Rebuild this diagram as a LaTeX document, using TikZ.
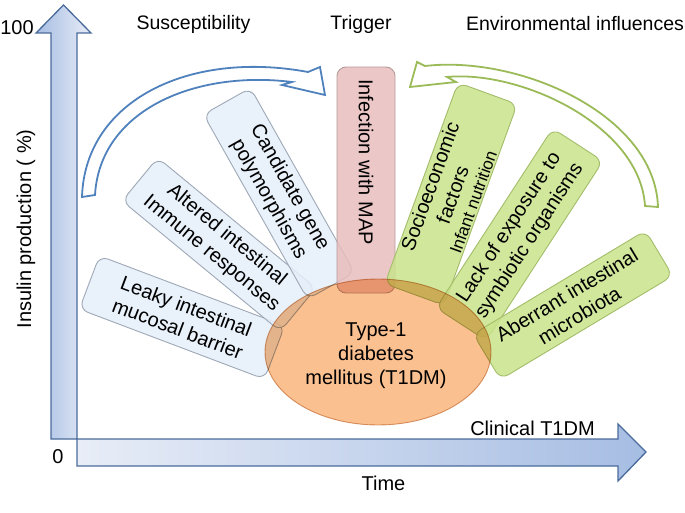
\documentclass[tikz,border=0pt]{standalone}
\usepackage{fontspec}
\setmainfont{Liberation Sans}
\usetikzlibrary{shapes.geometric}
\definecolor{axisborder}{HTML}{4A6B9B}
\definecolor{axislight}{HTML}{E8EDF7}
\definecolor{axisdark}{HTML}{A6BDE3}
\definecolor{bluefill}{HTML}{E5EEF9}
\definecolor{blueedge}{HTML}{9EA8B6}
\definecolor{greenfill}{HTML}{C9E38B}
\definecolor{greenedge}{HTML}{A3BD6A}
\definecolor{pinkfill}{HTML}{E8BDBD}
\definecolor{pinkedge}{HTML}{B89A9A}
\definecolor{orangefill}{HTML}{FAC090}
\definecolor{orangeedge}{HTML}{D9A57C}
\definecolor{arrowblue}{HTML}{4F81BD}
\definecolor{arrowgreen}{HTML}{9BBB59}
\begin{document}
\begin{tikzpicture}[x=1pt,y=-1pt,
  lab/.style={font=\fontsize{20}{24}\selectfont, inner sep=0pt},
  ttl/.style={font=\fontsize{19.5}{23}\selectfont, inner sep=0pt, anchor=base},
  factor/.style={rounded corners=9pt, line width=0.9pt, fill opacity=0.85, text opacity=1,
    align=center, font=\fontsize{20}{24}\selectfont, inner sep=0pt},
  suscept/.style={factor, draw=blueedge, fill=bluefill},
  trig/.style={factor, draw=pinkedge, fill=pinkfill},
  envf/.style={factor, draw=greenedge, fill=greenfill},
  axisshape/.style={left color=axisdark, right color=axislight, draw=axisborder, line width=1.3pt},
  haxisshape/.style={left color=axislight, right color=axisdark, draw=axisborder, line width=1.3pt},
  bendarrow/.style={fill=white, line width=1.8pt, line join=miter}
]
\useasboundingbox (0,0) rectangle (685,513);

% axes
\shadedraw[axisshape] (51,439) -- (51,33) -- (36,33) -- (63.5,5) -- (91,33) -- (77,33) -- (77,439) -- cycle;
\shadedraw[haxisshape] (77,439) -- (618,439) -- (618,424) -- (646,452) -- (618,481) -- (618,466) -- (77,466) -- cycle;

% curved arrows
\draw[bendarrow, draw=arrowblue] (82,197) .. controls (85,100) and (190,50) .. (308,72)
  -- (320,67) -- (325,95) -- (282,85) -- (292,82)
  .. controls (195,70) and (100,110) .. (95,195) -- cycle;
\draw[bendarrow, draw=arrowgreen] (410,87) -- (417,62) -- (425,66)
  .. controls (520,55) and (655,115) .. (658,207) -- (645,206)
  .. controls (640,125) and (520,70) .. (447,77) -- (456,82) -- cycle;

% factor boxes
\node[suscept, rotate=-20.7, minimum width=198pt, minimum height=57pt] (leaky) at (182,317.5) {Leaky intestinal\\mucosal barrier};
\node[suscept, rotate=-39.5, minimum width=205pt, minimum height=56pt] (altered) at (219,244.5) {Altered intestinal\\Immune responses};
\node[suscept, rotate=-60.6, minimum width=212pt, minimum height=54pt] (gene) at (279,193.5) {Candidate gene\\polymorphisms};
\node[trig, rotate=-90, minimum width=226pt, minimum height=58pt] (map) at (366,180) {};
\node[lab, rotate=-90] (maptext) at (366,162) {Infection with MAP};
\node[envf, rotate=70, minimum width=214pt, minimum height=63pt] (socio) at (451,194) {Socioeconomic\\factors\\[-3pt]{\fontsize{17}{19}\selectfont Infant nutrition}};
\node[envf, rotate=57, minimum width=214pt, minimum height=60pt] (lack) at (519.5,234.5) {Lack of exposure to\\symbiotic organisms};
\node[envf, rotate=31, minimum width=201pt, minimum height=53pt] (aber) at (573,305) {Aberrant intestinal\\microbiota};

% central ellipse
\begin{scope}[blend mode=multiply]
\node[ellipse, minimum width=226pt, minimum height=146pt, fill=orangefill, draw=orangeedge, line width=0.9pt] (t1dm) at (378,352) {};
\end{scope}
\node[lab, align=center, font=\fontsize{20}{24}\selectfont] (t1dmtext) at (376,356) {Type-1\\diabetes\\mellitus (T1DM)};

% labels
\node[ttl] (tsus) at (193.5,30) {Susceptibility};
\node[ttl] (ttrig) at (361,30) {Trigger};
\node[ttl] (tenv) at (575,31) {Environmental influences};
\node[lab, anchor=base] (ymax) at (17,35) {100};
\node[lab, anchor=base] (zero) at (58,463) {0};
\node[lab, rotate=90] (ylab) at (26,229) {Insulin production ( \%)};
\node[lab, anchor=base] (xlab) at (383.5,490) {Time};
\node[lab, anchor=base] (clin) at (532.5,435) {Clinical T1DM};
\end{tikzpicture}
\end{document}
